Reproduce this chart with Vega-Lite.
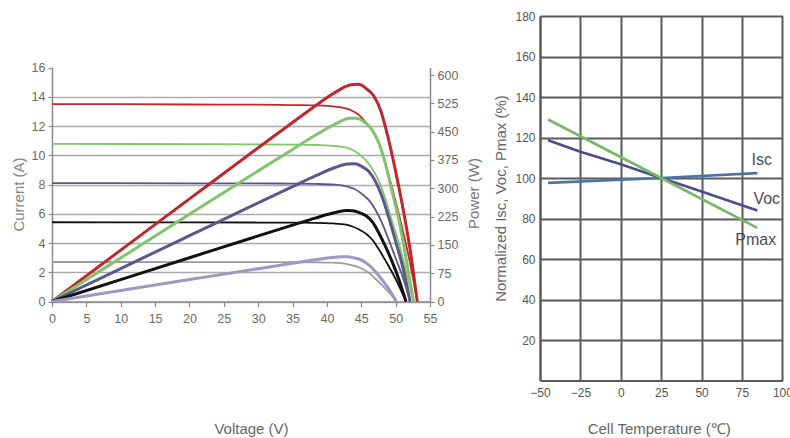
{
  "$schema": "https://vega.github.io/schema/vega-lite/v6.json",
  "padding": {"left": 11, "top": 10, "right": 0, "bottom": 0},
  "background": "white",
  "spacing": 12,
  "config": {
    "font": "Liberation Sans",
    "view": {"stroke": null},
    "axis": {"titleFontWeight": "normal", "titleFontSize": 15, "labelFontSize": 12.5, "labelFlush": false, "labelOverlap": false}
  },
  "datasets": {
    "iv": [
      {"s": "s1", "V": 0, "I": 13.5}, {"s": "s1", "V": 10, "I": 13.49}, {"s": "s1", "V": 20, "I": 13.47}, {"s": "s1", "V": 30, "I": 13.46}, {"s": "s1", "V": 35, "I": 13.43}, {"s": "s1", "V": 38.6, "I": 13.41}, {"s": "s1", "V": 41.5, "I": 13.31}, {"s": "s1", "V": 43.5, "I": 13.08}, {"s": "s1", "V": 44.6, "I": 12.78}, {"s": "s1", "V": 45.7, "I": 12.24}, {"s": "s1", "V": 46.8, "I": 11.54}, {"s": "s1", "V": 47.9, "I": 10.4}, {"s": "s1", "V": 48.8, "I": 8.98}, {"s": "s1", "V": 49.9, "I": 7.02}, {"s": "s1", "V": 51.0, "I": 4.93}, {"s": "s1", "V": 52.1, "I": 2.63}, {"s": "s1", "V": 53.15, "I": 0},
      {"s": "s2", "V": 0, "I": 10.78}, {"s": "s2", "V": 10, "I": 10.77}, {"s": "s2", "V": 20, "I": 10.76}, {"s": "s2", "V": 30, "I": 10.75}, {"s": "s2", "V": 35, "I": 10.73}, {"s": "s2", "V": 38.5, "I": 10.7}, {"s": "s2", "V": 41.3, "I": 10.63}, {"s": "s2", "V": 43.3, "I": 10.45}, {"s": "s2", "V": 44.3, "I": 10.21}, {"s": "s2", "V": 45.4, "I": 9.78}, {"s": "s2", "V": 46.4, "I": 9.22}, {"s": "s2", "V": 47.5, "I": 8.3}, {"s": "s2", "V": 48.4, "I": 7.17}, {"s": "s2", "V": 49.4, "I": 5.61}, {"s": "s2", "V": 50.5, "I": 3.93}, {"s": "s2", "V": 51.5, "I": 2.1}, {"s": "s2", "V": 52.6, "I": 0},
      {"s": "s3", "V": 0, "I": 8.1}, {"s": "s3", "V": 10, "I": 8.09}, {"s": "s3", "V": 20, "I": 8.08}, {"s": "s3", "V": 30, "I": 8.08}, {"s": "s3", "V": 35, "I": 8.06}, {"s": "s3", "V": 38.4, "I": 8.04}, {"s": "s3", "V": 41.2, "I": 7.99}, {"s": "s3", "V": 43.0, "I": 7.85}, {"s": "s3", "V": 44.1, "I": 7.67}, {"s": "s3", "V": 45.1, "I": 7.35}, {"s": "s3", "V": 46.1, "I": 6.93}, {"s": "s3", "V": 47.1, "I": 6.24}, {"s": "s3", "V": 48.0, "I": 5.39}, {"s": "s3", "V": 49.0, "I": 4.21}, {"s": "s3", "V": 50.0, "I": 2.96}, {"s": "s3", "V": 51.1, "I": 1.58}, {"s": "s3", "V": 52.1, "I": 0},
      {"s": "s4", "V": 0, "I": 5.42}, {"s": "s4", "V": 10, "I": 5.41}, {"s": "s4", "V": 20, "I": 5.41}, {"s": "s4", "V": 30, "I": 5.4}, {"s": "s4", "V": 35, "I": 5.39}, {"s": "s4", "V": 38.3, "I": 5.38}, {"s": "s4", "V": 40.9, "I": 5.34}, {"s": "s4", "V": 42.8, "I": 5.25}, {"s": "s4", "V": 43.7, "I": 5.13}, {"s": "s4", "V": 44.7, "I": 4.92}, {"s": "s4", "V": 45.7, "I": 4.63}, {"s": "s4", "V": 46.7, "I": 4.17}, {"s": "s4", "V": 47.5, "I": 3.6}, {"s": "s4", "V": 48.5, "I": 2.82}, {"s": "s4", "V": 49.5, "I": 1.98}, {"s": "s4", "V": 50.5, "I": 1.06}, {"s": "s4", "V": 51.5, "I": 0},
      {"s": "s5", "V": 0, "I": 2.7}, {"s": "s5", "V": 10, "I": 2.7}, {"s": "s5", "V": 20, "I": 2.69}, {"s": "s5", "V": 30, "I": 2.69}, {"s": "s5", "V": 35, "I": 2.69}, {"s": "s5", "V": 38.0, "I": 2.68}, {"s": "s5", "V": 40.4, "I": 2.66}, {"s": "s5", "V": 42.1, "I": 2.62}, {"s": "s5", "V": 43.0, "I": 2.56}, {"s": "s5", "V": 43.9, "I": 2.45}, {"s": "s5", "V": 44.8, "I": 2.31}, {"s": "s5", "V": 45.7, "I": 2.08}, {"s": "s5", "V": 46.5, "I": 1.8}, {"s": "s5", "V": 47.4, "I": 1.4}, {"s": "s5", "V": 48.3, "I": 0.99}, {"s": "s5", "V": 49.2, "I": 0.53}, {"s": "s5", "V": 50.1, "I": 0}
    ],
    "pv": [
      {"s": "s1", "V": 0, "P": 0}, {"s": "s1", "V": 10, "P": 136.1}, {"s": "s1", "V": 20, "P": 271.9}, {"s": "s1", "V": 30, "P": 407.4}, {"s": "s1", "V": 35, "P": 474.3}, {"s": "s1", "V": 38.6, "P": 522.0}, {"s": "s1", "V": 41.5, "P": 557.3}, {"s": "s1", "V": 43.5, "P": 574.1}, {"s": "s1", "V": 44.6, "P": 575.3}, {"s": "s1", "V": 45.7, "P": 564.5}, {"s": "s1", "V": 46.8, "P": 545.0}, {"s": "s1", "V": 47.9, "P": 502.3}, {"s": "s1", "V": 48.8, "P": 442.0}, {"s": "s1", "V": 49.9, "P": 353.4}, {"s": "s1", "V": 51.0, "P": 253.5}, {"s": "s1", "V": 52.1, "P": 138.4}, {"s": "s1", "V": 53.15, "P": 0},
      {"s": "s2", "V": 0, "P": 0}, {"s": "s2", "V": 10, "P": 115.6}, {"s": "s2", "V": 20, "P": 231.0}, {"s": "s2", "V": 30, "P": 346.1}, {"s": "s2", "V": 35, "P": 402.9}, {"s": "s2", "V": 38.5, "P": 442.3}, {"s": "s2", "V": 41.3, "P": 471.1}, {"s": "s2", "V": 43.3, "P": 485.5}, {"s": "s2", "V": 44.3, "P": 485.4}, {"s": "s2", "V": 45.4, "P": 476.4}, {"s": "s2", "V": 46.4, "P": 459.0}, {"s": "s2", "V": 47.5, "P": 423.2}, {"s": "s2", "V": 48.4, "P": 372.4}, {"s": "s2", "V": 49.4, "P": 297.2}, {"s": "s2", "V": 50.5, "P": 213.3}, {"s": "s2", "V": 51.5, "P": 116.2}, {"s": "s2", "V": 52.6, "P": 0},
      {"s": "s3", "V": 0, "P": 0}, {"s": "s3", "V": 10, "P": 87.3}, {"s": "s3", "V": 20, "P": 174.4}, {"s": "s3", "V": 30, "P": 261.4}, {"s": "s3", "V": 35, "P": 304.4}, {"s": "s3", "V": 38.4, "P": 333.3}, {"s": "s3", "V": 41.2, "P": 355.0}, {"s": "s3", "V": 43.0, "P": 364.2}, {"s": "s3", "V": 44.1, "P": 365.0}, {"s": "s3", "V": 45.1, "P": 357.5}, {"s": "s3", "V": 46.1, "P": 344.5}, {"s": "s3", "V": 47.1, "P": 317.0}, {"s": "s3", "V": 48.0, "P": 279.0}, {"s": "s3", "V": 49.0, "P": 222.7}, {"s": "s3", "V": 50.0, "P": 159.5}, {"s": "s3", "V": 51.1, "P": 87.1}, {"s": "s3", "V": 52.1, "P": 0},
      {"s": "s4", "V": 0, "P": 0}, {"s": "s4", "V": 10, "P": 58.0}, {"s": "s4", "V": 20, "P": 116.0}, {"s": "s4", "V": 30, "P": 173.8}, {"s": "s4", "V": 35, "P": 202.3}, {"s": "s4", "V": 38.3, "P": 221.0}, {"s": "s4", "V": 40.9, "P": 234.3}, {"s": "s4", "V": 42.8, "P": 241.0}, {"s": "s4", "V": 43.7, "P": 240.4}, {"s": "s4", "V": 44.7, "P": 235.6}, {"s": "s4", "V": 45.7, "P": 227.0}, {"s": "s4", "V": 46.7, "P": 208.9}, {"s": "s4", "V": 47.5, "P": 183.5}, {"s": "s4", "V": 48.5, "P": 146.5}, {"s": "s4", "V": 49.5, "P": 105.0}, {"s": "s4", "V": 50.5, "P": 57.2}, {"s": "s4", "V": 51.5, "P": 0},
      {"s": "s5", "V": 0, "P": 0}, {"s": "s5", "V": 10, "P": 29.1}, {"s": "s5", "V": 20, "P": 58.1}, {"s": "s5", "V": 30, "P": 87.0}, {"s": "s5", "V": 35, "P": 101.3}, {"s": "s5", "V": 38.0, "P": 109.8}, {"s": "s5", "V": 40.4, "P": 115.9}, {"s": "s5", "V": 42.1, "P": 118.7}, {"s": "s5", "V": 43.0, "P": 118.5}, {"s": "s5", "V": 43.9, "P": 115.9}, {"s": "s5", "V": 44.8, "P": 111.5}, {"s": "s5", "V": 45.7, "P": 102.4}, {"s": "s5", "V": 46.5, "P": 90.0}, {"s": "s5", "V": 47.4, "P": 71.7}, {"s": "s5", "V": 48.3, "P": 51.3}, {"s": "s5", "V": 49.2, "P": 27.9}, {"s": "s5", "V": 50.1, "P": 0}
    ],
    "temp": [
      {"param": "Isc", "T": -45, "v": 97.6}, {"param": "Isc", "T": 25, "v": 100}, {"param": "Isc", "T": 84.5, "v": 102.4},
      {"param": "Voc", "T": -45, "v": 118.6}, {"param": "Voc", "T": -25, "v": 113}, {"param": "Voc", "T": 0, "v": 106.8}, {"param": "Voc", "T": 25, "v": 100}, {"param": "Voc", "T": 50, "v": 93.3}, {"param": "Voc", "T": 84.5, "v": 84},
      {"param": "Pmax", "T": -45, "v": 128.9}, {"param": "Pmax", "T": 25, "v": 100}, {"param": "Pmax", "T": 84.5, "v": 75.4}
    ],
    "tlabels": [
      {"param": "Isc", "T": 87.2, "v": 109.1},
      {"param": "Voc", "T": 90.3, "v": 89.5},
      {"param": "Pmax", "T": 83.5, "v": 69.3}
    ]
  },
  "hconcat": [
    {
      "width": 378,
      "height": 364.5,
      "layer": [
        {
          "data": {"name": "iv"},
          "mark": {"type": "line", "strokeWidth": 1.8, "interpolate": "monotone"},
          "encoding": {
            "x": {"field": "V", "type": "quantitative", "scale": {"domain": [0, 55], "nice": false},
              "axis": {"values": [0, 5, 10, 15, 20, 25, 30, 35, 40, 45, 50, 55], "offset": -79, "title": "Voltage (V)", "titleX": 199, "titleY": 126.5, "titleBaseline": "middle", "titleColor": "#666666", "grid": false, "domainColor": "#8a8a8a", "domainWidth": 1.5, "tickColor": "#8a8a8a", "tickSize": 5, "tickWidth": 1.2, "labelPadding": 6, "labelColor": "#6a6a6a"}},
            "y": {"field": "I", "type": "quantitative", "scale": {"domain": [0, 16], "nice": false, "range": [285.5, 51.5]},
              "axis": {"values": [0, 2, 4, 6, 8, 10, 12, 14, 16], "title": "Current (A)", "titleX": -33.7, "titleY": 178, "titleBaseline": "middle", "titleColor": "#858585", "grid": true, "gridColor": "#ababab", "gridWidth": 1.5, "gridOpacity": {"condition": {"test": "datum.value == 16", "value": 0}, "value": 1}, "domainColor": "#8a8a8a", "domainWidth": 1.5, "tickColor": "#8a8a8a", "tickSize": 4, "tickWidth": 1.2, "labelPadding": 3, "labelColor": "#6a6a6a"}},
            "color": {"field": "s", "type": "nominal", "scale": {"domain": ["s1", "s2", "s3", "s4", "s5"], "range": ["#c0272d", "#80c46c", "#5d5789", "#111111", "#9c9c9c"]}, "legend": null}
          }
        },
        {
          "data": {"name": "pv"},
          "mark": {"type": "line", "strokeWidth": 3, "interpolate": "monotone"},
          "encoding": {
            "x": {"field": "V", "type": "quantitative", "scale": {"domain": [0, 55], "nice": false},
              "axis": {"values": [0, 5, 10, 15, 20, 25, 30, 35, 40, 45, 50, 55], "offset": -79, "title": "Voltage (V)", "titleX": 199, "titleY": 126.5, "titleBaseline": "middle", "titleColor": "#666666", "grid": false, "domainColor": "#8a8a8a", "domainWidth": 1.5, "tickColor": "#8a8a8a", "tickSize": 5, "tickWidth": 1.2, "labelPadding": 6, "labelColor": "#6a6a6a"}},
            "y": {"field": "P", "type": "quantitative", "scale": {"domain": [0, 620], "nice": false, "range": [285.5, 51.5]},
              "axis": {"orient": "right", "values": [0, 75, 150, 225, 300, 375, 450, 525, 600], "title": "Power (W)", "titleAngle": 270, "titleX": 43, "titleY": 177, "titleBaseline": "middle", "titleColor": "#777777", "grid": false, "domainColor": "#8a8a8a", "domainWidth": 1.5, "tickColor": "#8a8a8a", "tickSize": 4, "tickWidth": 1.2, "labelPadding": 3, "labelColor": "#6a6a6a"}},
            "color": {"field": "s", "type": "nominal", "scale": {"domain": ["s1", "s2", "s3", "s4", "s5"], "range": ["#c0272d", "#80c46c", "#5d5789", "#111111", "#9d98c3"]}, "legend": null}
          }
        }
      ],
      "resolve": {"scale": {"y": "independent", "color": "independent"}}
    },
    {
      "width": 242.4,
      "height": 364.5,
      "layer": [
        {
          "data": {"name": "temp"},
          "mark": {"type": "line", "strokeWidth": 2.6},
          "encoding": {
            "x": {"field": "T", "type": "quantitative", "scale": {"domain": [-50, 100], "nice": false},
              "axis": {"values": [-50, -25, 0, 25, 50, 75, 100], "title": "Cell Temperature (℃)", "titleX": 118.7, "titleY": 47.5, "titleBaseline": "middle", "titleColor": "#666666", "grid": true, "gridColor": "#5a5a5a", "gridWidth": 2, "domainColor": "#5a5a5a", "domainWidth": 2, "ticks": false, "labelPadding": 7, "labelColor": "#555555", "labelFontSize": 12}},
            "y": {"field": "v", "type": "quantitative", "scale": {"domain": [0, 180], "nice": false},
              "axis": {"values": [20, 40, 60, 80, 100, 120, 140, 160, 180], "title": "Normalized Isc, Voc, Pmax (%)", "titleX": -39.3, "titleY": 182, "titleBaseline": "middle", "titleColor": "#666666", "grid": true, "gridColor": "#5a5a5a", "gridWidth": 2, "domainColor": "#5a5a5a", "domainWidth": 2, "ticks": false, "labelPadding": 5, "labelColor": "#555555", "labelFontSize": 12}},
            "color": {"field": "param", "type": "nominal", "scale": {"domain": ["Isc", "Voc", "Pmax"], "range": ["#4c74a3", "#4e4b8b", "#77b866"]}, "legend": null}
          }
        },
        {
          "data": {"name": "tlabels"},
          "mark": {"type": "text", "fontSize": 16, "color": "#4d4d5a", "align": "center", "baseline": "middle"},
          "encoding": {
            "x": {"field": "T", "type": "quantitative"},
            "y": {"field": "v", "type": "quantitative"},
            "text": {"field": "param", "type": "nominal"}
          }
        }
      ]
    }
  ]
}
